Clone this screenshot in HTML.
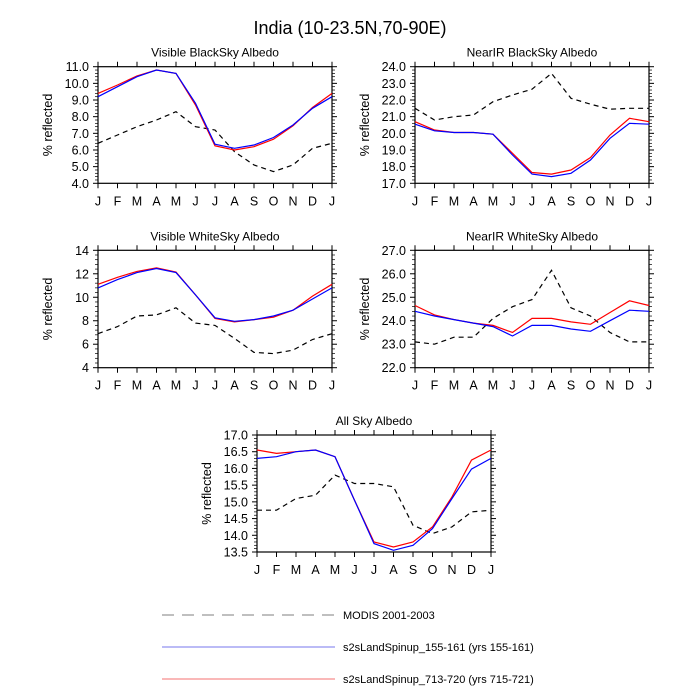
<!DOCTYPE html>
<html><head><meta charset="utf-8"><style>
html,body{margin:0;padding:0;background:#fff;}
svg{display:block;font-family:"Liberation Sans",sans-serif;}
</style></head><body>
<svg id="chart" width="700" height="700" viewBox="0 0 700 700">
<text x="350" y="34" font-size="18" text-anchor="middle">India (10-23.5N,70-90E)</text>
<g>
<line x1="162" y1="615" x2="335" y2="615" stroke="#aaa" stroke-width="1.5" stroke-dasharray="12,8"/>
<text x="343" y="619" font-size="11">MODIS 2001-2003</text>
<line x1="162" y1="647" x2="335" y2="647" stroke="#7777ee" stroke-width="1"/>
<text x="343" y="651" font-size="11">s2sLandSpinup_155-161 (yrs 155-161)</text>
<line x1="162" y1="679" x2="335" y2="679" stroke="#f8a0a0" stroke-width="1.5"/>
<text x="343" y="683" font-size="11">s2sLandSpinup_713-720 (yrs 715-721)</text>
</g>
</svg>
<script>
const months = ["J","F","M","A","M","J","J","A","S","O","N","D","J"];
const titles = ["Visible BlackSky Albedo","NearIR BlackSky Albedo","Visible WhiteSky Albedo","NearIR WhiteSky Albedo","All Sky Albedo"];
const yMins = [4,17,4,22,13.5];
const yMaxs = [11,24,14,27,17];
const yStepsArr = [1,1,2,1,0.5];
const yDecimals = [1,1,0,1,1];
const modis1 = [6.4,6.9,7.4,7.8,8.3,7.4,7.2,5.9,5.1,4.7,5.1,6.1,6.4];
const blue1 = [9.2,9.8,10.4,10.8,10.6,8.8,6.35,6.1,6.3,6.75,7.5,8.5,9.2];
const red1 = [9.4,9.9,10.45,10.8,10.6,8.7,6.25,6.0,6.2,6.65,7.45,8.55,9.4];
const modis2 = [21.5,20.8,21.0,21.1,21.9,22.3,22.65,23.6,22.1,21.75,21.45,21.5,21.5];
const blue2 = [20.55,20.15,20.05,20.05,19.95,18.7,17.55,17.4,17.6,18.4,19.7,20.6,20.55];
const red2 = [20.7,20.2,20.05,20.05,19.95,18.8,17.65,17.55,17.8,18.55,19.9,20.9,20.7];
const modis3 = [6.9,7.5,8.4,8.5,9.1,7.8,7.6,6.5,5.3,5.2,5.5,6.4,6.9];
const blue3 = [10.8,11.5,12.1,12.45,12.1,10.2,8.25,7.95,8.1,8.4,8.9,9.85,10.8];
const red3 = [11.1,11.7,12.2,12.5,12.15,10.2,8.2,7.9,8.1,8.3,8.9,10.1,11.1];
const modis4 = [23.1,23.0,23.3,23.3,24.1,24.6,24.9,26.15,24.55,24.2,23.5,23.1,23.1];
const blue4 = [24.4,24.2,24.05,23.9,23.75,23.35,23.8,23.8,23.65,23.55,24.0,24.45,24.4];
const red4 = [24.65,24.25,24.05,23.9,23.8,23.5,24.1,24.1,23.95,23.85,24.35,24.85,24.65];
const modis5 = [14.75,14.75,15.1,15.2,15.8,15.55,15.55,15.45,14.3,14.05,14.25,14.7,14.75];
const blue5 = [16.3,16.35,16.5,16.55,16.35,15.05,13.75,13.55,13.7,14.2,15.1,15.98,16.3];
const red5 = [16.55,16.45,16.5,16.55,16.35,15.05,13.8,13.65,13.8,14.25,15.15,16.25,16.55];

const modisAll=[modis1,modis2,modis3,modis4,modis5];
const blueAll=[blue1,blue2,blue3,blue4,blue5];
const redAll=[red1,red2,red3,red4,red5];
const boxes=[[98,66.7,332,183.3],[415,66.7,649,183.3],[98,250.3,332,367.7],[415,250.3,649,367.7],[257,435,491,552]];
const svg=document.getElementById('chart');
const NS='http://www.w3.org/2000/svg';
function mk(tag,attrs,parent){const e=document.createElementNS(NS,tag);for(const k in attrs)e.setAttribute(k,attrs[k]);parent.appendChild(e);return e;}
for(let p=0;p<5;p++){
  const [x0,y0,x1,y1]=boxes[p];
  const ymin=yMins[p],ymax=yMaxs[p],st=yStepsArr[p];
  const xs=i=>x0+(x1-x0)*i/(months.length-1);
  const ys=v=>y1-(y1-y0)*(v-ymin)/(ymax-ymin);
  const g=mk('g',{},svg);
  
  
  const t=mk('text',{x:(x0+x1)/2,y:y0-10,'font-size':12,'text-anchor':'middle'},g);t.textContent=titles[p];
  
  
  const yt=mk('text',{x:0,y:0,'font-size':12.5,'text-anchor':'middle',transform:`translate(${x0-46},${(y0+y1)/2}) rotate(-90)`},g);yt.textContent='% reflected';
  
  
  for(let i=0;i<months.length;i++){
    const x=xs(i);
    mk('line',{x1:x,y1:y1,x2:x,y2:y1+5,stroke:'#000'},g);
    mk('line',{x1:x,y1:y0,x2:x,y2:y0-5,stroke:'#000'},g);
    const l=mk('text',{x:x,y:y1+22,'font-size':12.5,'text-anchor':'middle'},g);l.textContent=months[i];
    
    
  }
  const n=Math.round((ymax-ymin)/st);
  for(let k=0;k<=n;k++){
    const v=ymin+k*st,y=ys(v);
    mk('line',{x1:x0,y1:y,x2:x0-5,y2:y,stroke:'#000'},g);
    mk('line',{x1:x1,y1:y,x2:x1+5,y2:y,stroke:'#000'},g);
    const l=mk('text',{x:x0-9,y:y+4.5,'font-size':12.5,'text-anchor':'end'},g);l.textContent=v.toFixed(yDecimals[p]);
    
    
    if(k<n){for(let m=1;m<5;m++){const ym=ys(v+st*m/5);
      mk('line',{x1:x0,y1:ym,x2:x0-3,y2:ym,stroke:'#000','stroke-width':0.7},g);
      mk('line',{x1:x1,y1:ym,x2:x1+3,y2:ym,stroke:'#000','stroke-width':0.7},g);}}
  }
  mk('rect',{x:x0,y:y0,width:x1-x0,height:y1-y0,fill:'none',stroke:'#000','stroke-width':1.2},g);
  const series=[[modisAll[p],'#000','5,4',1.2,'modis-line'],[redAll[p],'#f00','',1.2,'run713-line'],[blueAll[p],'#00f','',1.2,'run155-line']];
  for(const [d,c,da,w,nm] of series){
    const pts=d.map((v,i)=>xs(i).toFixed(1)+','+ys(v).toFixed(1)).join(' ');
    const pl=mk('polyline',{points:pts,fill:'none',stroke:c,'stroke-width':w},g);
    if(da)pl.setAttribute('stroke-dasharray',da);
    
    
  }
}
</script>
</body></html>
